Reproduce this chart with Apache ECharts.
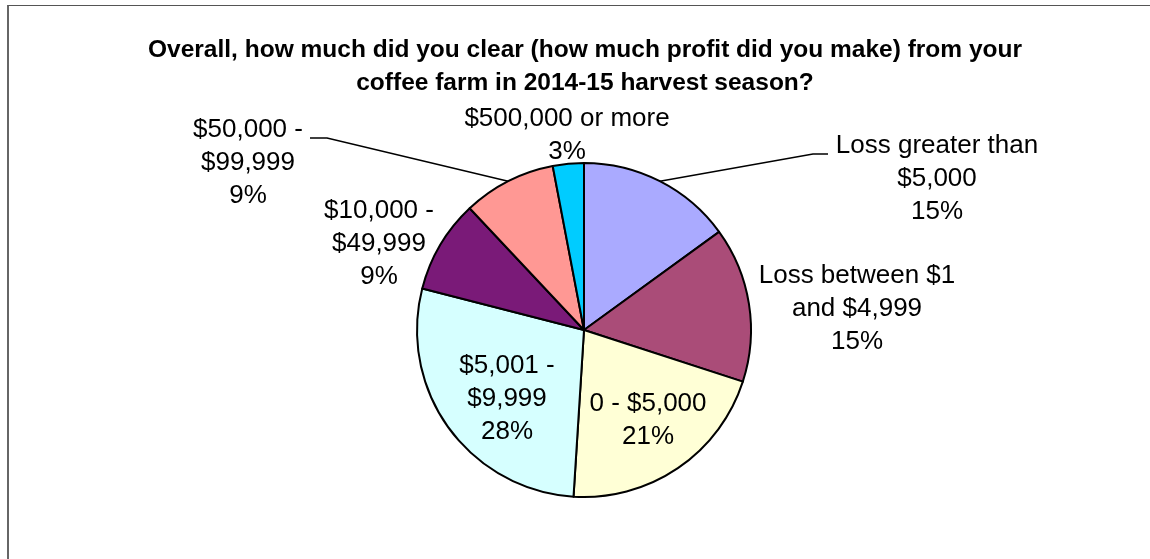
<!DOCTYPE html>
<html>
<head>
<meta charset="utf-8">
<title>Coffee farm profit 2014-15</title>
<script src="https://cdn.jsdelivr.net/npm/echarts@6/dist/echarts.min.js"></script>
<style>
  html, body {
    margin: 0;
    padding: 0;
    background: #fff;
    overflow: hidden;
  }
  #chart {
    width: 1150px;
    height: 559px;
  }
  .frame {
    position: absolute;
    left: 7px;
    top: 5px;
    width: 1200px;
    height: 600px;
    border-left: 2px solid #666;
    border-top: 1px solid #555;
    pointer-events: none;
  }
</style>
</head>
<body>
<div id="chart"></div>
<div class="frame"></div>
<script>
  const titleLines = [
    'Overall, how much did you clear (how much profit did you make) from your',
    'coffee farm in 2014-15 harvest season?'
  ]
  const categories = [
    'Loss greater than\n$5,000',
    'Loss between $1\nand $4,999',
    '0 - $5,000',
    '$5,001 -\n$9,999',
    '$10,000 -\n$49,999',
    '$50,000 -\n$99,999',
    '$500,000 or more'
  ]
  const values = [15, 15, 21, 28, 9, 9, 3]
  const colors = ['#AAAAFF', '#AA4C78', '#FFFFD6', '#D6FFFF', '#7A1A78', '#FF9894', '#00CCFF']

  // where each label block sits (centre) and which ones get a leader line
  const labelSpots = [
    {x: 937, y: 179, line: [[813, 154], [828, 154]]},
    {x: 857, y: 309},
    {x: 648, y: 420},
    {x: 507, y: 399},
    {x: 379, y: 244},
    {x: 248, y: 163, line: [[327, 138], [310, 138]]},
    {x: 567, y: 135}
  ]

  const font = '"Liberation Sans", Arial, sans-serif'
  let chart = echarts.init(document.getElementById('chart'))

  let option = {
    animation: false,
    title: {
      text: titleLines.join('\n'),
      left: 585,
      top: 34,
      textAlign: 'center',
      padding: 0,
      textStyle: {
        fontFamily: font,
        fontSize: 24.5,
        fontWeight: 'bold',
        color: '#000',
        lineHeight: 33
      }
    },
    series: [{
      type: 'pie',
      center: [584, 330],
      radius: 167,
      startAngle: 90,
      clockwise: true,
      percentPrecision: 0,
      avoidLabelOverlap: false,
      itemStyle: {borderColor: '#000', borderWidth: 2},
      emphasis: {disabled: true},
      label: {
        show: true,
        position: 'outside',
        formatter: '{b}\n{d}%',
        fontFamily: font,
        fontSize: 26,
        lineHeight: 33,
        color: '#000'
      },
      labelLine: {
        show: false,
        lineStyle: {color: '#000', width: 1.5}
      },
      labelLayout: function (params) {
        let spot = labelSpots[params.dataIndex]
        let out = {x: spot.x, y: spot.y, align: 'center', verticalAlign: 'middle'}
        if (spot.line && params.labelLinePoints) {
          out.labelLinePoints = [params.labelLinePoints[0]].concat(spot.line)
        }
        return out
      },
      data: categories.map((name, i) => ({
        name: name,
        value: values[i],
        itemStyle: {color: colors[i]},
        labelLine: {show: !!labelSpots[i].line}
      }))
    }]
  }
  chart.setOption(option)
</script>
</body>
</html>
